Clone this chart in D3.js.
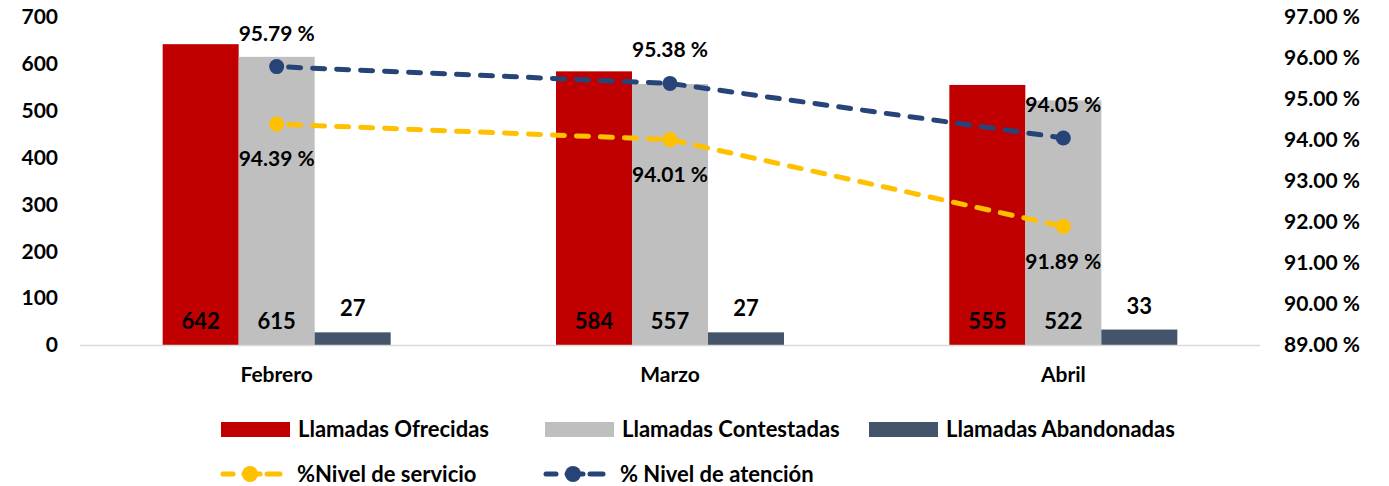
<!DOCTYPE html>
<html><head><meta charset="utf-8">
<script src="https://cdn.jsdelivr.net/npm/d3@7"></script>
<style>body{margin:0;background:#fff}svg{display:block}text{font-family:Lato,"Open Sans",sans-serif;font-weight:bold;fill:#000}</style>
</head><body><svg id="c" width="1389" height="486"></svg>
<script>
const categories = ["Febrero","Marzo","Abril"];
const ofrecidas = [642,584,555];
const contestadas = [615,557,522];
const abandonadas = [27,27,33];
const nivelServicio = [94.39,94.01,91.89];
const nivelAtencion = [95.79,95.38,94.05];
const leftTicks = [0,100,200,300,400,500,600,700];
const rightTicks = [89,90,91,92,93,94,95,96,97];

const svg = d3.select("#c");
const x0 = 80, x1 = 1260, yTop = 17, yBot = 345;
const x = d3.scaleBand().domain(categories).range([x0,x1]).paddingInner(0).paddingOuter(0);
const yL = d3.scaleLinear().domain([0,700]).range([yBot,yTop]);
const yR = d3.scaleLinear().domain([89,97]).range([yBot,yTop]);
const barW = 76;
const series = [
  {name:"Llamadas Ofrecidas", vals:ofrecidas, color:"#C00000"},
  {name:"Llamadas Contestadas", vals:contestadas, color:"#BFBFBF"},
  {name:"Llamadas Abandonadas", vals:abandonadas, color:"#44546A"}
];
const xs = d3.scaleBand().domain([0,1,2]).range([-1.5*barW,1.5*barW]);
const cx = c => x(c) + x.bandwidth()/2;
const fs = 21;

// axes
const axL = svg.append("g").attr("transform",`translate(${x0},0)`).call(d3.axisLeft(yL).tickValues(leftTicks).tickSize(0).tickPadding(22));
axL.select(".domain").remove();
axL.selectAll("text").attr("font-size",fs).attr("font-family","Lato").attr("font-weight","bold").attr("fill","#000");
const axR = svg.append("g").attr("transform",`translate(${x1},0)`).call(d3.axisRight(yR).tickValues(rightTicks).tickSize(0).tickPadding(24).tickFormat(d=>d3.format(".2f")(d)+" %"));
axR.select(".domain").remove();
axR.selectAll("text").attr("font-size",fs).attr("font-family","Lato").attr("font-weight","bold").attr("fill","#000");

// bars
series.forEach((s,si)=>{
  svg.append("g").selectAll("rect").data(s.vals).join("rect")
    .attr("x",(d,i)=>cx(categories[i])+xs(si)).attr("width",barW)
    .attr("y",d=>yL(d)).attr("height",d=>yBot-yL(d)).attr("fill",s.color);
});
// baseline
svg.append("line").attr("x1",x0).attr("x2",x1).attr("y1",yBot+0.5).attr("y2",yBot+0.5).attr("stroke","#D9D9D9").attr("stroke-width",1.5);

// x labels
const axB = svg.append("g").attr("transform",`translate(0,${yBot})`).call(d3.axisBottom(x).tickSize(0).tickPadding(22));
axB.select(".domain").remove();
axB.selectAll("text").attr("font-size",fs).attr("font-family","Lato").attr("font-weight","bold").attr("fill","#000");

// bar labels
series.forEach((s,si)=>{
  svg.append("g").selectAll("text").data(s.vals).join("text")
    .attr("x",(d,i)=>cx(categories[i])+xs(si)+barW/2)
    .attr("y",d=> si<2 ? yBot-16 : yL(d)-16)
    .attr("text-anchor","middle").attr("font-size",fs+1).text(d=>d);
});

// lines
const lines = [
  {name:"%Nivel de servicio", vals:nivelServicio, color:"#FFC000", dy:42},
  {name:"% Nivel de atención", vals:nivelAtencion, color:"#264478", dy:-26}
];
lines.forEach(l=>{
  const pts = l.vals.map((v,i)=>[cx(categories[i]), yR(v)]);
  svg.append("path").attr("d",d3.line()(pts)).attr("fill","none").attr("stroke",l.color)
    .attr("stroke-width",5).attr("stroke-dasharray","12,12").attr("stroke-dashoffset",-12).attr("stroke-linecap","round");
  svg.append("g").selectAll("circle").data(pts).join("circle").attr("cx",d=>d[0]).attr("cy",d=>d[1]).attr("r",7.5).attr("fill",l.color);
  svg.append("g").selectAll("text").data(l.vals).join("text")
    .attr("x",(d,i)=>cx(categories[i])).attr("y",d=>yR(d)+l.dy)
    .attr("text-anchor","middle").attr("font-size",fs).text(d=>d3.format(".2f")(d)+" %");
});

// legend
const leg1 = [{s:series[0],x:221},{s:series[1],x:545},{s:series[2],x:869}];
leg1.forEach(o=>{
  svg.append("rect").attr("x",o.x).attr("y",422).attr("width",69).attr("height",15).attr("fill",o.s.color);
  svg.append("text").attr("x",o.x+77).attr("y",437).attr("font-size",22).text(o.s.name);
});
const leg2 = [{l:lines[0],x:220},{l:lines[1],x:543}];
leg2.forEach(o=>{
  const yy = 474;
  [[o.x+3,o.x+13],[o.x+47,o.x+60]].forEach(seg=>{
    svg.append("line").attr("x1",seg[0]).attr("x2",seg[1]).attr("y1",yy).attr("y2",yy).attr("stroke",o.l.color)
      .attr("stroke-width",5).attr("stroke-linecap","round");
  });
  svg.append("line").attr("x1",o.x+24).attr("x2",o.x+40).attr("y1",yy).attr("y2",yy).attr("stroke",o.l.color)
    .attr("stroke-width",5).attr("stroke-linecap","round");
  svg.append("circle").attr("cx",o.x+30).attr("cy",yy).attr("r",8).attr("fill",o.l.color);
  svg.append("text").attr("x",o.x+77).attr("y",yy+8).attr("font-size",22).text(o.l.name);
});
</script></body></html>
